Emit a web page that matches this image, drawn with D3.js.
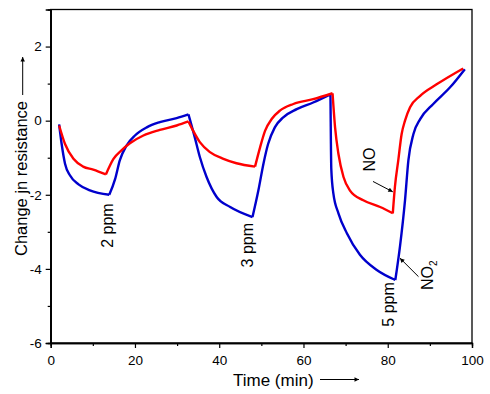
<!DOCTYPE html>
<html>
<head>
<meta charset="utf-8">
<script src="https://cdn.jsdelivr.net/npm/d3@7"></script>
<style>
  body { margin: 0; background: #fff; }
  text { font-family: "Liberation Sans", Arial, sans-serif; fill: #000; }
</style>
</head>
<body>
<svg id="chart"></svg>
<script>
// Time (min) / change in resistance for the two gases
const blueTime = [2, 2.6, 3.4, 4.6, 6.6, 9.3, 13.9, 15.3, 16.4, 18.0, 20, 22.8, 25.9, 29.9, 32.7,
  34.2, 35.4, 37, 39.4, 42.6, 47.9, 49.3, 50.5, 51.6, 53.2, 55.2, 58.4, 62.3, 66.4,
  66.5, 66.6, 67.1, 68.3, 70.3, 73.4, 77.4, 81.8, 82.9, 84.1, 84.9, 86.1, 87.7, 90.8, 94.8, 98.3];
const blueValue = [-0.1, -0.63, -1.16, -1.48, -1.72, -1.88, -2.0, -1.57, -1.07, -0.67, -0.4, -0.18, -0.04, 0.07, 0.17,
  -0.45, -0.98, -1.52, -2.06, -2.33, -2.6, -1.88, -1.16, -0.63, -0.18, 0.09, 0.31, 0.49, 0.71,
  -0.5, -1.3, -1.97, -2.5, -3.04, -3.62, -4.03, -4.3, -3.4, -2.15, -1.07, -0.36, 0.04, 0.45, 0.9, 1.39];

const redTime = [2, 3.4, 5.4, 7.7, 10.1, 13.1, 14.9, 16.8, 18.8, 22, 25.9, 29.9, 32.7,
  33.8, 35.4, 37.8, 41, 44.1, 48.5, 49.7, 50.9, 52.5, 54.4, 57.6, 62.3, 66.9,
  67.5, 68.3, 69.5, 71, 74.2, 78.2, 81.2, 81.7, 82.5, 83.3, 84.1, 85.3, 87.7, 91.6, 97.9];
const redValue = [-0.13, -0.63, -1.03, -1.24, -1.32, -1.45, -1.03, -0.8, -0.61, -0.4, -0.25, -0.13, -0.02,
  -0.27, -0.58, -0.85, -1.03, -1.15, -1.24, -0.72, -0.27, 0.05, 0.27, 0.45, 0.58, 0.74,
  -0.18, -0.9, -1.52, -1.88, -2.15, -2.33, -2.5, -1.79, -1.07, -0.36, 0, 0.36, 0.67, 0.98, 1.41];

const xTicks = [0, 20, 40, 60, 80, 100];
const xMinorTicks = [10, 30, 50, 70, 90];
const yTicks = [2, 0, -2, -4, -6];
const yMinorTicks = [1, -1, -3, -5];

// ppm labels (data coords)
const ppmLabels = [
  { text: '2 ppm', t: 14.7, v: -2.83 },
  { text: '3 ppm', t: 48.0, v: -3.36 },
  { text: '5 ppm', t: 81.5, v: -4.96 },
];

const width = 490;
const height = 394;

const svg = d3.select('#chart')
  .attr('width', width)
  .attr('height', height);

const xScale = d3.scaleLinear().domain([0, 100]).range([50.7, 472]);
const yScale = d3.scaleLinear().domain([-6, 3]).range([343, 9.5]);

// small arrow head marker
svg.append('defs').append('marker')
  .attr('id', 'head')
  .attr('viewBox', '0 0 10 10')
  .attr('refX', 10)
  .attr('refY', 5)
  .attr('markerWidth', 7)
  .attr('markerHeight', 4.5)
  .attr('markerUnits', 'userSpaceOnUse')
  .attr('orient', 'auto')
  .append('path')
  .attr('d', 'M0,0 L10,5 L0,10 Z')
  .attr('fill', '#000');

const line = d3.line()
  .curve(d3.curveMonotoneX)
  .x((d) => xScale(d[0]))
  .y((d) => yScale(d[1]));

// split the trace at its turning points so the corners stay sharp
function pieces(data) {
  const out = [];
  let start = 0;
  for (let i = 1; i < data.length - 1; i++) {
    const a = data[i][1] - data[i - 1][1];
    const b = data[i + 1][1] - data[i][1];
    if (a * b < 0) {
      out.push(data.slice(start, i + 1));
      start = i;
    }
  }
  out.push(data.slice(start));
  return out;
}

function drawTrace(times, values, color) {
  const data = times.map((t, i) => [t, values[i]]);
  const d = pieces(data).map((p) => line(p)).join('');
  svg.append('path')
    .attr('fill', 'none')
    .attr('stroke', color)
    .attr('stroke-width', 2.4)
    .attr('stroke-linejoin', 'miter')
    .attr('d', d);
}

drawTrace(blueTime, blueValue, '#0000cc');
drawTrace(redTime, redValue, '#ff0000');

// frame
svg.append('rect')
  .attr('x', xScale(0))
  .attr('y', yScale(3))
  .attr('width', xScale(100) - xScale(0))
  .attr('height', yScale(-6) - yScale(3))
  .attr('fill', 'none')
  .attr('stroke', '#000')
  .attr('stroke-width', 1.3);

// axes
svg.append('g')
  .attr('transform', `translate(0,${yScale(-6)})`)
  .call(d3.axisBottom(xScale).tickValues(xTicks).tickSize(5).tickPadding(7).tickFormat(d3.format('d')));
svg.append('g')
  .attr('transform', `translate(0,${yScale(-6)})`)
  .call(d3.axisBottom(xScale).tickValues(xMinorTicks).tickSize(3).tickFormat(''));

svg.append('g')
  .attr('transform', `translate(${xScale(0)},0)`)
  .call(d3.axisLeft(yScale).tickValues(yTicks).tickSize(5).tickPadding(4).tickFormat((d) => String(d)));
svg.append('g')
  .attr('transform', `translate(${xScale(0)},0)`)
  .call(d3.axisLeft(yScale).tickValues(yMinorTicks).tickSize(3).tickFormat(''));

svg.selectAll('.domain').attr('stroke', '#000').attr('stroke-width', 1.3);
svg.selectAll('.tick line').attr('stroke', '#000').attr('stroke-width', 1.2);
svg.selectAll('.tick text')
  .attr('font-size', '13.5px')
  .style('font-family', '"Liberation Sans", Arial, sans-serif')
  .attr('fill', '#000');

// axis titles
svg.append('text')
  .attr('x', 233)
  .attr('y', 386)
  .attr('font-size', '17px')
  .text('Time (min)');
svg.append('line')
  .attr('x1', 320).attr('y1', 379.5)
  .attr('x2', 359).attr('y2', 379.5)
  .attr('stroke', '#000')
  .attr('stroke-width', 1)
  .attr('marker-end', 'url(#head)');

svg.append('text')
  .attr('transform', 'translate(27,178.5) rotate(-90)')
  .attr('text-anchor', 'middle')
  .attr('font-size', '16.5px')
  .text('Change jn resistance');
svg.append('line')
  .attr('x1', 22.7).attr('y1', 95)
  .attr('x2', 22.7).attr('y2', 57)
  .attr('stroke', '#000')
  .attr('stroke-width', 1)
  .attr('marker-end', 'url(#head)');

// ppm labels
svg.selectAll('.ppm')
  .data(ppmLabels)
  .join('text')
  .attr('class', 'ppm')
  .attr('transform', (d) => `translate(${xScale(d.t)},${yScale(d.v)}) rotate(-90)`)
  .attr('text-anchor', 'middle')
  .attr('font-size', '16px')
  .text((d) => d.text);

// gas labels with arrows
svg.append('text')
  .attr('transform', `translate(${xScale(77)},${yScale(-1.05)}) rotate(-90)`)
  .attr('text-anchor', 'middle')
  .attr('font-size', '16px')
  .text('NO');
svg.append('line')
  .attr('x1', xScale(76.5)).attr('y1', yScale(-1.64))
  .attr('x2', xScale(81.2)).attr('y2', yScale(-1.92))
  .attr('stroke', '#000')
  .attr('stroke-width', 1)
  .attr('marker-end', 'url(#head)');

const no2 = svg.append('text')
  .attr('transform', `translate(${xScale(90.7)},${yScale(-4.57)}) rotate(-90)`)
  .attr('font-size', '16px');
no2.append('tspan').text('NO');
no2.append('tspan').attr('font-size', '10px').attr('dy', 4).text('2');
svg.append('line')
  .attr('x1', xScale(87.3)).attr('y1', yScale(-4.21))
  .attr('x2', xScale(82.9)).attr('y2', yScale(-3.71))
  .attr('stroke', '#000')
  .attr('stroke-width', 1)
  .attr('marker-end', 'url(#head)');
</script>
</body>
</html>
